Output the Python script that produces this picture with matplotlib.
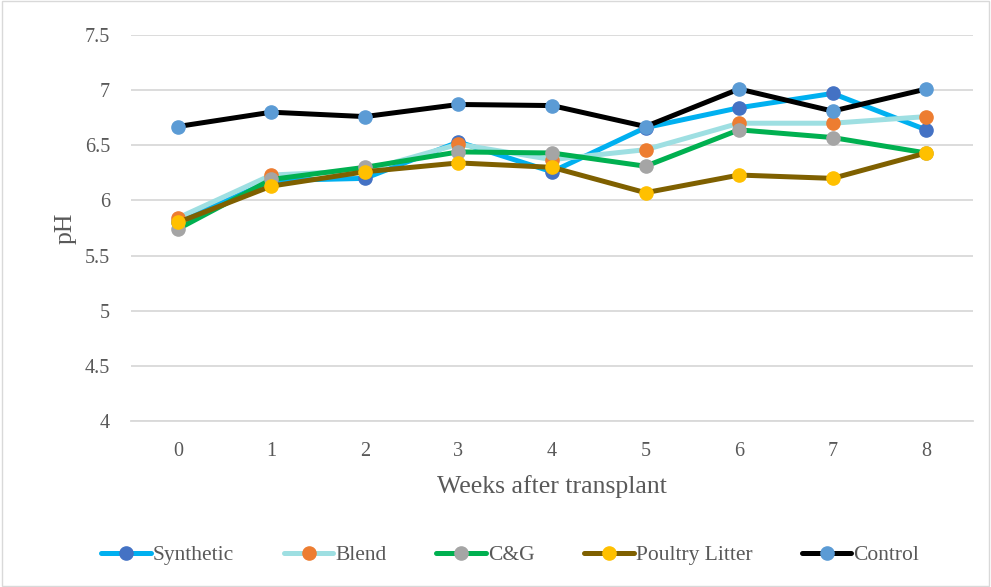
import matplotlib
matplotlib.use("Agg")
import matplotlib.pyplot as plt
from matplotlib.patches import Rectangle

weeks = [0, 1, 2, 3, 4, 5, 6, 7, 8]
synthetic = [5.80, 6.18, 6.20, 6.53, 6.26, 6.66, 6.84, 6.97, 6.64]
blend = [5.84, 6.23, 6.27, 6.51, 6.37, 6.46, 6.70, 6.70, 6.76]
cg = [5.74, 6.19, 6.30, 6.44, 6.43, 6.31, 6.64, 6.57, 6.43]
poultry = [5.80, 6.13, 6.26, 6.34, 6.30, 6.07, 6.23, 6.20, 6.43]
control = [6.67, 6.80, 6.76, 6.87, 6.86, 6.67, 7.01, 6.81, 7.01]

series = [
    ("Synthetic", synthetic, "#00B0F0", "#4472C4"),
    ("Blend", blend, "#9EDFE2", "#ED7D31"),
    ("C&G", cg, "#00B050", "#A5A5A5"),
    ("Poultry Litter", poultry, "#7F6000", "#FFC000"),
    ("Control", control, "#000000", "#5B9BD5"),
]

plt.rcParams['font.family'] = ['Liberation Serif', 'DejaVu Serif']

fig = plt.figure(figsize=(9.91, 5.87), dpi=100)
fig.patches.append(Rectangle((0.002, 0.002), 0.996, 0.996, transform=fig.transFigure,
                             fill=False, edgecolor="#D9D9D9", linewidth=1))
ax = fig.add_axes([0.1322, 0.2828, 0.8496, 0.6576])

for name, vals, lc, mc in series:
    ax.plot(weeks, vals, color=lc, linewidth=3.6, marker="o", markersize=9.5,
            markerfacecolor=mc, markeredgecolor=mc, label=name, solid_capstyle="round")

ax.set_xlim(-0.5, 8.5)
ax.set_ylim(4, 7.5)
ax.set_yticks([4, 4.5, 5, 5.5, 6, 6.5, 7, 7.5])
ax.set_yticklabels(["4", "4.5", "5", "5.5", "6", "6.5", "7", "7.5"])
ax.set_xticks(weeks)
ax.set_xticklabels([str(w) for w in weeks])
ax.grid(axis="y", color="#D9D9D9", linewidth=1.3)
ax.set_axisbelow(True)
for s in ["top", "right", "left"]:
    ax.spines[s].set_visible(False)
ax.spines["bottom"].set_color("#D9D9D9")
ax.spines["bottom"].set_linewidth(1.3)
ax.tick_params(axis="both", length=0, labelsize=14.5, labelcolor="#595959")
ax.tick_params(axis="y", pad=15)
ax.tick_params(axis="x", pad=15)
ax.set_xlabel("Weeks after transplant", fontsize=18.5, color="#595959", labelpad=10)
ax.set_ylabel("pH", fontsize=18.5, color="#595959", labelpad=6)

fig.legend(loc="center", bbox_to_anchor=(0.515, 0.054), ncol=5, frameon=False,
           fontsize=15.5, labelcolor="#595959", handlelength=2.3, handletextpad=0.1,
           columnspacing=2.3)

fig.savefig("out.png", dpi=100)
